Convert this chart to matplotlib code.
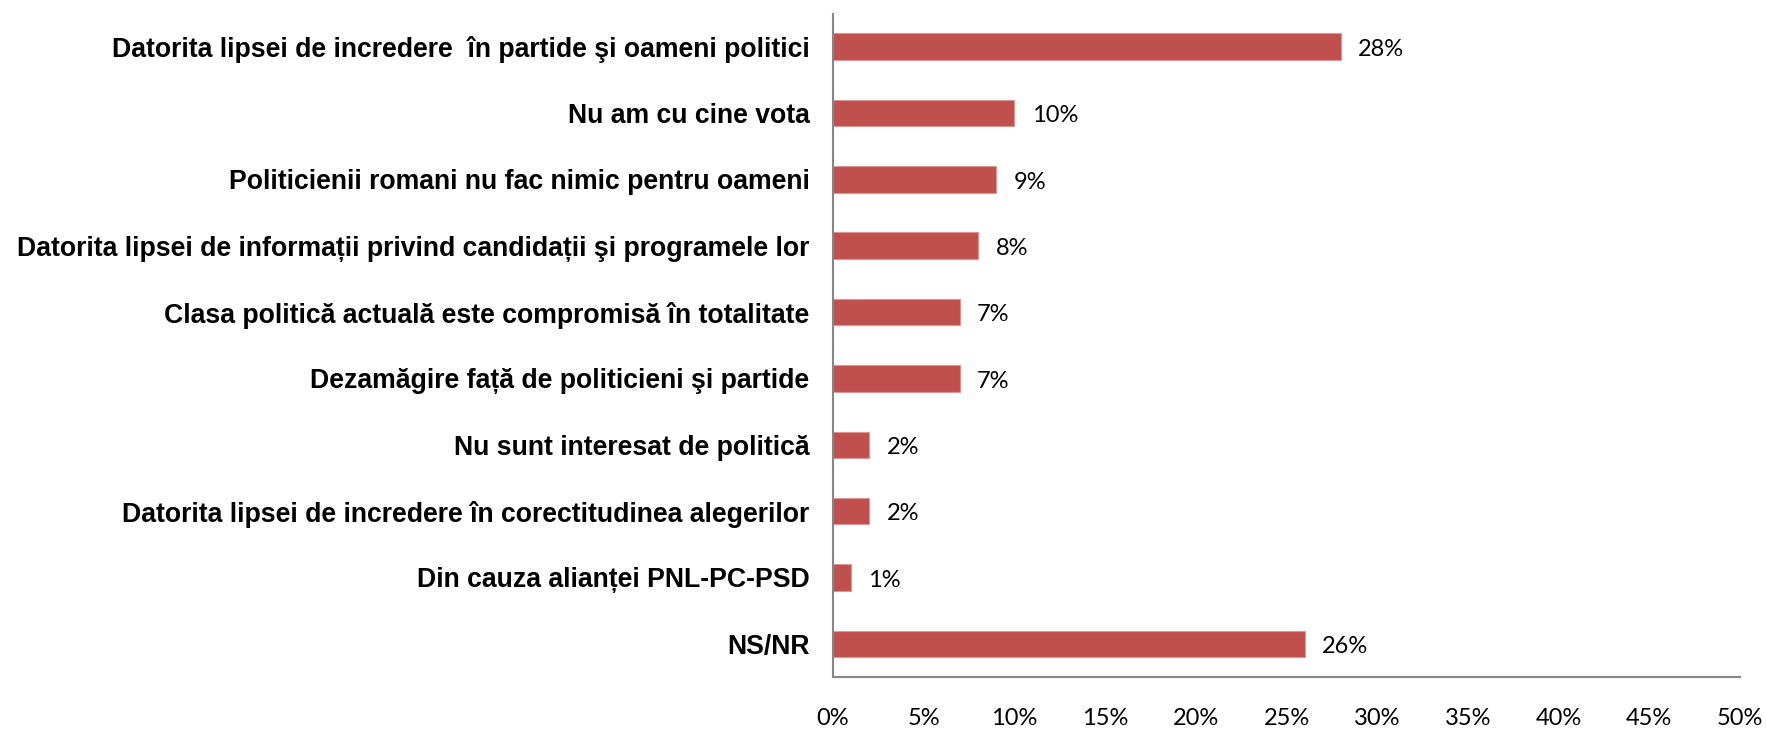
import matplotlib
matplotlib.use("Agg")
import matplotlib.pyplot as plt

categories = [
    "Datorita lipsei de incredere  în partide şi oameni politici",
    "Nu am cu cine vota",
    "Politicienii romani nu fac nimic pentru oameni",
    "Datorita lipsei de informații privind candidații şi programele lor",
    "Clasa politică actuală este compromisă în totalitate",
    "Dezamăgire față de politicieni şi partide",
    "Nu sunt interesat de politică",
    "Datorita lipsei de incredere în corectitudinea alegerilor",
    "Din cauza alianței PNL-PC-PSD",
    "NS/NR",
]
values = [28, 10, 9, 8, 7, 7, 2, 2, 1, 26]
xticks = [0, 5, 10, 15, 20, 25, 30, 35, 40, 45, 50]

fig = plt.figure(figsize=(17.66, 7.31), dpi=100)
ax = fig.add_axes([0.4717, 0.0739, 0.9853 - 0.4717, 0.9815 - 0.0739])

y = list(range(len(categories)))
ax.barh(y, values, height=0.4, color="#C0504D", edgecolor="#D99694", linewidth=0.8)
ax.set_ylim(len(categories) - 0.5, -0.5)
ax.set_xlim(0, 50)

for yi, v in zip(y, values):
    ax.text(v + 0.95, yi + 0.04, f"{v}%", va="center", ha="left", fontsize=17,
            family="Lato", color="black")

ax.set_yticks(y)
ax.set_yticklabels(categories, fontsize=19.2, fontweight="bold", family="Liberation Sans")
ax.set_xticks(xticks)
ax.set_xticklabels([f"{t}%" for t in xticks], fontsize=17, family="Lato")

ax.tick_params(axis="y", length=0, pad=17)
ax.tick_params(axis="x", length=0, pad=22)

for s in ["top", "right"]:
    ax.spines[s].set_visible(False)
for s in ["left", "bottom"]:
    ax.spines[s].set_color("#868686")
    ax.spines[s].set_linewidth(1.5)

plt.savefig("out.png", dpi=100)
